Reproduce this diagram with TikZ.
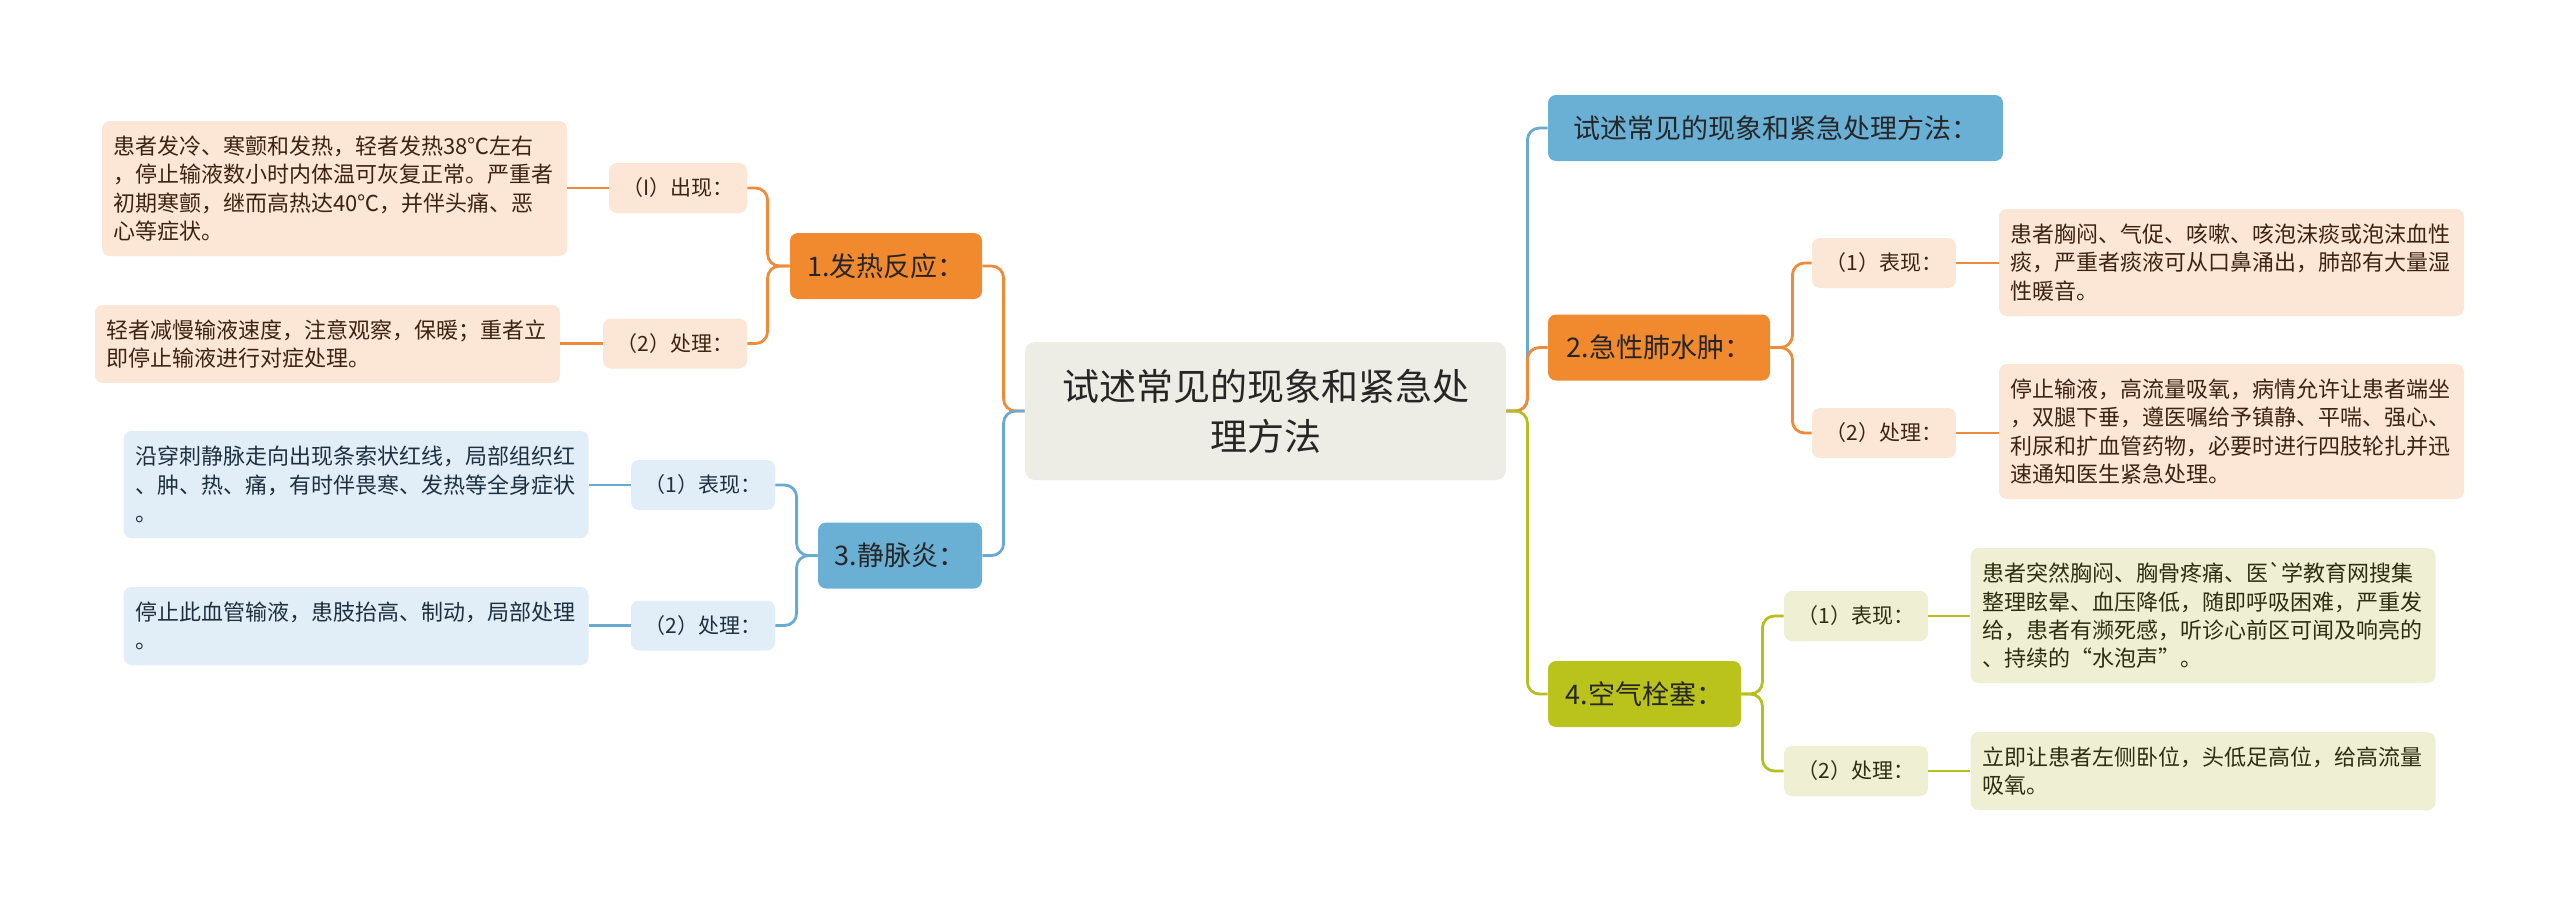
\documentclass[tikz,border=0pt]{standalone}
\usepackage{fontspec}
\setmainfont{Noto Sans CJK SC}[Ligatures=TeXOff]
\usetikzlibrary{calc}
\definecolor{orD}{HTML}{F18A2F}
\definecolor{orLn}{HTML}{EE8B3B}
\definecolor{orL}{HTML}{FCE6D6}
\definecolor{orT}{HTML}{3D2410}
\definecolor{blD}{HTML}{6AAFD4}
\definecolor{blLn}{HTML}{6AAAD0}
\definecolor{blL}{HTML}{E1EEF8}
\definecolor{blT}{HTML}{1E3040}
\definecolor{olD}{HTML}{B9C31B}
\definecolor{olLn}{HTML}{B5C020}
\definecolor{olL}{HTML}{EFF0D3}
\definecolor{olT}{HTML}{2E2E10}
\definecolor{rootc}{HTML}{EDEDE5}
\begin{document}
\begin{tikzpicture}[x=0.5pt,y=-0.5pt,
  rootbox/.style={fill=rootc, rounded corners=5pt, minimum width=240.5pt, minimum height=69pt, inner sep=0pt, align=center, text=black!85, font=\fontsize{18.5}{25}\selectfont},
  hdr/.style={rounded corners=4pt, minimum height=33pt, inner sep=0pt, text=black!85, font=\fontsize{13.5}{16}\selectfont},
  lbl/.style={rounded corners=4pt, minimum width=72pt, minimum height=25pt, inner sep=0pt, font=\fontsize{10.5}{13}\selectfont},
  txt/.style={rounded corners=4pt, text width=221pt, inner xsep=5.75pt, inner ysep=0pt, align=left, font=\fontsize{11}{14.15}\selectfont},
  ln/.style={line width=1.4pt, rounded corners=6pt},
]
\useasboundingbox (0,0) rectangle (2560,906);
\fill[white] (0,0) rectangle (2560,906);

% root
\node[rootbox] (root) at (1265.5,411) {试述常见的现象和紧急处\\理方法};

% level 1
\node[hdr, fill=orD, minimum width=96pt] (n1) at (886,266) {1.发热反应：};
\node[hdr, fill=blD, minimum width=82pt] (n3) at (900,555.5) {3.静脉炎：};
\node[hdr, fill=blD, minimum width=227.5pt] (t) at (1775.5,128) {试述常见的现象和紧急处理方法：};
\node[hdr, fill=orD, minimum width=111pt] (n2) at (1659,347.5) {2.急性肺水肿：};
\node[hdr, fill=olD, minimum width=96.5pt] (n4) at (1644.5,694) {4.空气栓塞：};

% level 2 labels
\node[lbl, fill=orL, text=orT, minimum width=69pt] (n1a) at (678,188) {（I）出现：};
\node[lbl, fill=orL, text=orT] (n1b) at (675,343.5) {（2）处理：};
\node[lbl, fill=blL, text=blT] (n3a) at (703,485) {（1）表现：};
\node[lbl, fill=blL, text=blT] (n3b) at (703,625.5) {（2）处理：};
\node[lbl, fill=orL, text=orT] (n2a) at (1884,263) {（1）表现：};
\node[lbl, fill=orL, text=orT] (n2b) at (1884,433) {（2）处理：};
\node[lbl, fill=olL, text=olT] (n4a) at (1856,616) {（1）表现：};
\node[lbl, fill=olL, text=olT] (n4b) at (1856,771) {（2）处理：};

% level 3 texts
\node[txt, fill=orL, text=orT, minimum height=67.5pt] (a) at (334.5,188.5) {患者发冷、寒颤和发热，轻者发热38℃左右\\，停止输液数小时内体温可灰复正常。严重者\\初期寒颤，继而高热达40℃，并伴头痛、恶\\心等症状。};
\node[txt, fill=orL, text=orT, minimum height=39pt] (b) at (327.5,344) {轻者减慢输液速度，注意观察，保暖；重者立\\即停止输液进行对症处理。};
\node[txt, fill=blL, text=blT, minimum height=53.5pt] (c) at (356,484.5) {沿穿刺静脉走向出现条索状红线，局部组织红\\、肿、热、痛，有时伴畏寒、发热等全身症状\\。};
\node[txt, fill=blL, text=blT, minimum height=39pt] (d) at (356,626) {停止此血管输液，患肢抬高、制动，局部处理\\。};
\node[txt, fill=orL, text=orT, minimum height=53.5pt] (e) at (2231.5,262.5) {患者胸闷、气促、咳嗽、咳泡沫痰或泡沫血性\\痰，严重者痰液可从口鼻涌出，肺部有大量湿\\性暖音。};
\node[txt, fill=orL, text=orT, minimum height=67.5pt] (f) at (2231.5,431.5) {停止输液，高流量吸氧，病情允许让患者端坐\\，双腿下垂，遵医嘱给予镇静、平喘、强心、\\利尿和扩血管药物，必要时进行四肢轮扎并迅\\速通知医生紧急处理。};
\node[txt, fill=olL, text=olT, minimum height=67.5pt] (g) at (2203,615.5) {患者突然胸闷、胸骨疼痛、医\symbol{96}学教育网搜集\\整理眩晕、血压降低，随即呼吸困难，严重发\\给，患者有濒死感，听诊心前区可闻及响亮的\\、持续的“水泡声”。};
\node[txt, fill=olL, text=olT, minimum height=39pt] (h) at (2203,771) {立即让患者左侧卧位，头低足高位，给高流量\\吸氧。};

% connectors root -> level 1
\draw[ln, orLn] (root.west) -- ++(-21,0) |- (n1.east);
\draw[ln, blLn] (root.west) -- ++(-21,0) |- (n3.east);
\draw[ln, blLn] (root.east) -- ++(21,0) |- (t.west);
\draw[ln, orLn] (root.east) -- ++(21,0) |- (n2.west);
\draw[ln, olLn] (root.east) -- ++(21,0) |- (n4.west);

% level 1 -> labels
\draw[ln, orLn] (n1.west) -- ++(-22,0) |- (n1a.east);
\draw[ln, orLn] (n1.west) -- ++(-22,0) |- (n1b.east);
\draw[ln, blLn] (n3.west) -- ++(-21,0) |- (n3a.east);
\draw[ln, blLn] (n3.west) -- ++(-21,0) |- (n3b.east);
\draw[ln, orLn] (n2.east) -- ++(22,0) |- (n2a.west);
\draw[ln, orLn] (n2.east) -- ++(22,0) |- (n2b.west);
\draw[ln, olLn] (n4.east) -- ++(21,0) |- (n4a.west);
\draw[ln, olLn] (n4.east) -- ++(21,0) |- (n4b.west);

% labels -> texts
\draw[ln, orLn] (n1a.west) -- (n1a.west -| a.east);
\draw[ln, orLn] (n1b.west) -- (n1b.west -| b.east);
\draw[ln, blLn] (n3a.west) -- (n3a.west -| c.east);
\draw[ln, blLn] (n3b.west) -- (n3b.west -| d.east);
\draw[ln, orLn] (n2a.east) -- (n2a.east -| e.west);
\draw[ln, orLn] (n2b.east) -- (n2b.east -| f.west);
\draw[ln, olLn] (n4a.east) -- (n4a.east -| g.west);
\draw[ln, olLn] (n4b.east) -- (n4b.east -| h.west);
\end{tikzpicture}
\end{document}
